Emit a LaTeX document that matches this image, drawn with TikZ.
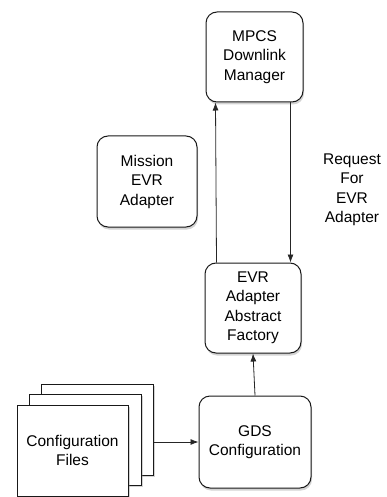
\documentclass[tikz,border=0pt]{standalone}
\usepackage{fontspec}
\setmainfont{Liberation Sans}
\usetikzlibrary{arrows.meta,shadows}

\begin{document}
\begin{tikzpicture}[x=1pt,y=-1pt,
  font=\fontsize{15.5}{19.5}\selectfont,
  box/.style={draw=black!90,line width=1pt,rounded corners=11pt,fill=white,
    align=center,inner sep=0pt,
    drop shadow={shadow xshift=1pt,shadow yshift=-2.5pt,opacity=0.35}},
  page/.style={draw=black!90,line width=1pt,fill=white,align=center,inner sep=0pt,
    minimum width=112pt,minimum height=91pt,
    drop shadow={shadow xshift=1.5pt,shadow yshift=-1.5pt,opacity=0.35}},
  link/.style={draw=black!85,line width=0.8pt,-{Latex[length=8pt,width=6pt]}}]
  \useasboundingbox (0,0) rectangle (386,497);

  % Components
  \node[box,minimum width=97pt,minimum height=90pt] (M) at (254.5,57) {MPCS\\Downlink\\Manager};
  \node[box,minimum width=100pt,minimum height=91pt] (E) at (147,181.5) {Mission\\EVR\\Adapter};
  \node[box,minimum width=96pt,minimum height=90pt] (F) at (253,308) {EVR\\Adapter\\Abstract\\Factory};
  \node[box,minimum width=112pt,minimum height=92pt] (G) at (255,442) {GDS\\Configuration};

  % Stack of configuration files
  \node[page] (C3) at (97.5,429.5) {};
  \node[page] (C2) at (85,439.5) {};
  \node[page,minimum width=111pt] (C1) at (72.5,450.5) {Configuration\\Files};

  % Request label
  \node[align=center] (R) at (352,190) {Request\\For\\EVR\\Adapter};

  % Arrows
  \draw[link] (C3.east |- G.west) -- (G.west);
  \draw[link] (G.north) -- (F.south);
  \draw[link] ([xshift=12pt]F.north west) -- ([xshift=11pt]F.north west |- M.south);
  \draw[link] ([xshift=-13pt]M.south east) -- ([xshift=-13pt]M.south east |- F.north);
\end{tikzpicture}
\end{document}
